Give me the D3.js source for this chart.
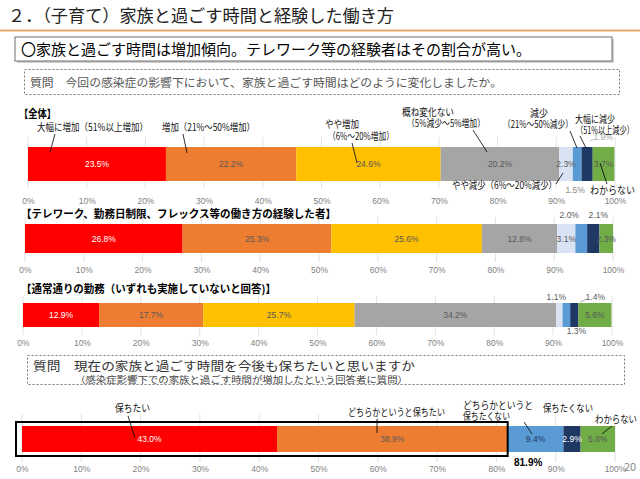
<!DOCTYPE html>
<html><head><meta charset="utf-8">
<script src="https://cdn.jsdelivr.net/npm/d3@7/dist/d3.min.js"></script>
<style>
html,body{margin:0;padding:0;background:#fff;}
svg{display:block;font-family:"Noto Sans CJK JP","Noto Sans",sans-serif;}
</style></head>
<body>
<svg id="c" width="640" height="479"></svg>
<script>
// ---- data ----
const categories = ["大幅に増加（51%以上増加）","増加（21%～50%増加）","やや増加（6%～20%増加）","概ね変化ない（5%減少～5%増加）","やや減少（6%～20%減少）","減少（21%～50%減少）","大幅に減少（51%以上減少）","わからない"];
const allValues = [23.5,22.2,24.6,20.2,2.3,1.5,1.9,3.7];
const teleworkValues = [26.8,25.3,25.6,12.8,3.1,2.0,2.1,2.3];
const normalValues = [12.9,17.7,25.7,34.2,1.1,1.3,1.4,5.6];
const keepCategories = ["保ちたい","どちらかというと保ちたい","どちらかというと保ちたくない","保ちたくない","わからない"];
const keepValues = [43.0,38.9,9.4,2.9,5.8];
const tickValues = [0,10,20,30,40,50,60,70,80,90,100];
const tickLabels = ["0%","10%","20%","30%","40%","50%","60%","70%","80%","90%","100%"];

const colors8 = ["#FF0000","#ED7D31","#FFC000","#A5A5A5","#DAE3F3","#5B9BD5","#203864","#70AD47"];
const colors5 = ["#FF0000","#ED7D31","#5B9BD5","#203864","#70AD47"];

const svg = d3.select("#c");

function txt(x,y,s,o){
  o=o||{};
  const t=svg.append("text").attr("x",x).attr("y",y).text(s)
    .attr("font-size",o.size||10).attr("fill",o.fill||"#000")
    .attr("font-weight",o.weight||"normal")
    .attr("text-anchor",o.anchor||"start");
  if(o.len){t.attr("textLength",o.len).attr("lengthAdjust","spacingAndGlyphs");}
  if(o.family){t.attr("font-family",o.family);}
  return t;
}
function line(x1,y1,x2,y2,c,w){
  svg.append("line").attr("x1",x1).attr("y1",y1).attr("x2",x2).attr("y2",y2)
    .attr("stroke",c||"#000").attr("stroke-width",w||0.8);
}

// ---- header ----
txt(8,22,"２．（子育て）家族と過ごす時間と経験した働き方",{size:17,fill:"#222",len:386});
svg.append("rect").attr("x",0).attr("y",29.5).attr("width",640).attr("height",2).attr("fill","#E9A86E");
svg.append("rect").attr("x",17).attr("y",39).attr("width",597).attr("height",24).attr("fill","#cfcfcf");
svg.append("rect").attr("x",15).attr("y",37).attr("width",597).attr("height",24).attr("fill","#fff").attr("stroke","#6f6f6f").attr("stroke-width",1);
txt(21,55,"〇家族と過ごす時間は増加傾向。テレワーク等の経験者はその割合が高い。",{size:15,len:510});
svg.append("rect").attr("x",24.5).attr("y",69.5).attr("width",595).attr("height",25).attr("fill","none").attr("stroke","#777").attr("stroke-dasharray","2,2");
txt(30,87,"質問　今回の感染症の影響下において、家族と過ごす時間はどのように変化しましたか。",{size:11.5,fill:"#555",len:472});

// ---- generic bar drawer ----
function drawBar(values, cols, cfg){
  const x = d3.scaleLinear().domain([0,100]).range([cfg.x0,cfg.x1]);
  svg.append("g").selectAll("line").data(tickValues).join("line")
    .attr("x1",d=>x(d)).attr("x2",d=>x(d)).attr("y1",cfg.gy0).attr("y2",cfg.gy1)
    .attr("stroke","#D9D9D9").attr("stroke-width",0.8);
  const ax = svg.append("g").attr("transform",`translate(0,${cfg.ty})`)
    .call(d3.axisBottom(x).tickValues(tickValues).tickSize(0).tickFormat((d,i)=>tickLabels[i]));
  ax.select(".domain").remove();
  ax.selectAll("text").attr("y",0).attr("font-size",8.5).attr("fill","#7f7f7f").attr("font-family","Liberation Sans,Arial,sans-serif").attr("dy","0.35em");
  let cum=0;
  const segs = values.map((v,i)=>{const s={v,i,start:cum};cum+=v;return s;});
  svg.append("g").selectAll("rect").data(segs).join("rect")
    .attr("x",d=>x(d.start)).attr("width",d=>x(d.start+d.v)-x(d.start))
    .attr("y",cfg.y).attr("height",cfg.h).attr("fill",d=>cols[d.i]);
  segs.forEach(d=>{
    const p = (cfg.labels && cfg.labels[d.i]) || {pos:"in"};
    const cx = x(d.start+d.v/2);
    let lx=cx, ly=cfg.y+cfg.h/2+3;
    if(p.pos==="above"){lx=cx+(p.dx||0); ly=cfg.y-3+(p.dy||0);}
    if(p.pos==="below"){lx=cx+(p.dx||0); ly=cfg.y+cfg.h+9+(p.dy||0);}
    txt(lx,ly,d.v.toFixed(1)+"%",{size:8.5,anchor:"middle",fill:p.fill||"#595959",family:"Liberation Sans,Arial,sans-serif"});
  });
  return x;
}

// ---- chart 1 ----
txt(19,118,"【全体】",{size:11,weight:"bold",len:37});
drawBar(allValues, colors8, {x0:28,x1:615,y:147,h:34,gy0:137,gy1:188,ty:201,
  labels:{0:{pos:"in",fill:"#fff"},5:{pos:"below",dx:-2,dy:3,fill:"#8a8a8a"},6:{pos:"above",dx:16,dy:-4,fill:"#aaa"}}});
line(590,141,594,139,"#aaa",0.7);
const cl = {size:10,fill:"#111"};
txt(37,131,"大幅に増加（51%以上増加）",Object.assign({len:111},cl)); line(55,134,50,152);
txt(162,131,"増加（21%～50%増加）",Object.assign({len:93},cl)); line(183,134,187,153);
txt(325,128,"やや増加",Object.assign({len:34},cl));
txt(328,140,"（6%～20%増加）",Object.assign({len:66},cl)); line(352,143,357,163);
txt(402,116,"概ね変化ない",Object.assign({len:52},cl));
txt(407,127,"（5%減少～5%増加）",Object.assign({len:78},cl)); line(473,130,487,152);
txt(530,117,"減少",Object.assign({len:18},cl));
txt(503,128,"（21%～50%減少）",Object.assign({len:70},cl)); line(570,131,577,148);
txt(575,123,"大幅に減少",Object.assign({len:40},cl));
txt(576,134,"（51%以上減少）",Object.assign({len:58},cl)); line(580,136,586,148);
txt(452,189,"やや減少（6%～20%減少）",Object.assign({len:105},cl)); line(556,184,563,173);
txt(590,194,"わからない",Object.assign({len:45},cl)); line(600,163,607,184);

// ---- chart 2 ----
txt(21,218,"【テレワーク、勤務日制限、フレックス等の働き方の経験した者】",{size:11,weight:"bold",len:315});
drawBar(teleworkValues, colors8, {x0:25,x1:613,y:224,h:29,gy0:217,gy1:262,ty:270,
  labels:{0:{pos:"in",fill:"#fff"},5:{pos:"above",dx:-12,dy:-3},6:{pos:"above",dx:5,dy:-3}}});

// ---- chart 3 ----
txt(21,293,"【通常通りの勤務（いずれも実施していないと回答)】",{size:11,weight:"bold",len:255});
drawBar(normalValues, colors8, {x0:23,x1:612,y:303,h:24,gy0:296,gy1:335,ty:343,
  labels:{0:{pos:"in",fill:"#fff"},4:{pos:"above",dx:-3,dy:0},5:{pos:"below",dx:10,dy:-2},6:{pos:"above",dx:21,dy:0}}});
line(580,302,587,299,"#888",0.7);

// ---- question 2 ----
svg.append("rect").attr("x",27.5).attr("y",355.5).attr("width",597).attr("height",29).attr("fill","none").attr("stroke","#777").attr("stroke-dasharray","2,2");
txt(33,371,"質問　現在の家族と過ごす時間を今後も保ちたいと思いますか",{size:12.5,fill:"#333",len:382});
txt(75,382.5,"（感染症影響下での家族と過ごす時間が増加したという回答者に質問）",{size:9,fill:"#444",len:333});

// ---- chart 4 ----
const x4 = drawBar(keepValues, colors5, {x0:22,x1:615,y:426,h:26,gy0:414,gy1:462,ty:469,
  labels:{0:{pos:"in",fill:"#fff"},2:{pos:"in",fill:"#1F3864"},3:{pos:"in",fill:"#fff"}}});
svg.append("rect").attr("x",16).attr("y",422).attr("width",x4(keepValues[0]+keepValues[1])-16).attr("height",34)
  .attr("fill","none").attr("stroke","#000").attr("stroke-width",2);
txt(514,466,"81.9%",{size:10,weight:"bold",family:"Liberation Sans,Arial,sans-serif"});
const cl4 = {size:10.5,fill:"#111"};
txt(115,412,"保ちたい",Object.assign({len:35},cl4)); line(128,416,135,438);
txt(348,416,"どちらかというと保ちたい",Object.assign({len:97},cl4)); line(377,419,377,433);
txt(463,409,"どちらかというと",Object.assign({len:70},cl4));
txt(463,420,"保ちたくない",Object.assign({len:47},cl4)); line(524,422,532,434);
txt(543,412,"保ちたくない",Object.assign({len:50},cl4));
txt(595,423,"わからない",Object.assign({len:42},cl4)); line(612,426,602,434);

txt(624,471,"20",{size:11,fill:"#888"});
</script>
</body></html>
